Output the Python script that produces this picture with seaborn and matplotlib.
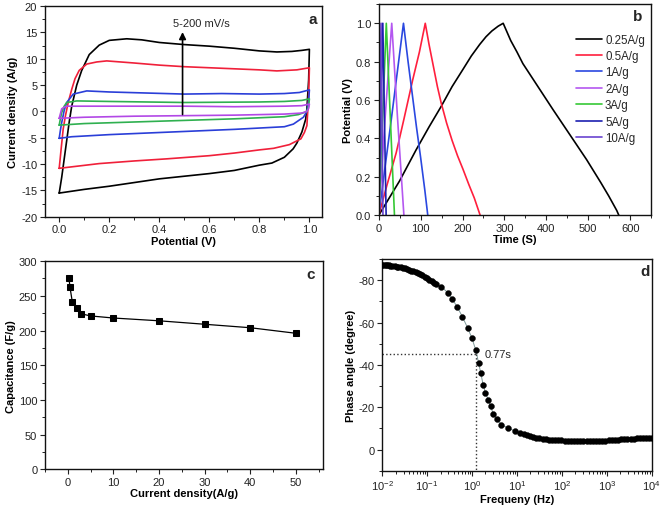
import numpy as np
import pandas as pd
import matplotlib
matplotlib.use('Agg')
import matplotlib.pyplot as plt
from matplotlib.ticker import MultipleLocator
import seaborn as sns

# ---- panel a: CV loops (potential V, current density A/g)
cv_x_black = [0.0, 0.01, 0.02, 0.03, 0.04, 0.05, 0.07, 0.09, 0.12, 0.16, 0.2, 0.27, 0.33, 0.4, 0.5, 0.6, 0.7, 0.8, 0.87, 0.93, 0.97, 1.0,
              0.997, 0.99, 0.985, 0.97, 0.95, 0.935, 0.9, 0.85, 0.8, 0.7, 0.6, 0.5, 0.4, 0.3, 0.2, 0.1, 0.0]
cv_y_black = [-15.5, -12.5, -9.0, -5.5, -2.0, 1.0, 5.0, 7.8, 10.8, 12.6, 13.5, 13.8, 13.6, 13.1, 12.7, 12.4, 12.0, 11.5, 11.3, 11.4, 11.6, 11.8,
              6.0, 0.5, -1.5, -3.9, -6.0, -7.1, -8.7, -9.8, -10.2, -11.2, -11.8, -12.3, -12.8, -13.5, -14.2, -14.8, -15.5]
cv_x_red = [0.0, 0.008, 0.016, 0.025, 0.036, 0.05, 0.063, 0.08, 0.11, 0.15, 0.19, 0.3, 0.4, 0.5, 0.6, 0.7, 0.8, 0.87, 0.95, 1.0,
            0.997, 0.99, 0.98, 0.966, 0.92, 0.857, 0.8, 0.7, 0.6, 0.43, 0.3, 0.16, 0.0]
cv_y_red = [-10.8, -7.0, -3.3, -0.8, 1.7, 4.2, 6.2, 7.8, 9.0, 9.4, 9.6, 9.2, 8.8, 8.5, 8.3, 8.1, 7.9, 7.7, 7.9, 8.3,
            3.0, -2.7, -4.0, -5.2, -6.3, -7.0, -7.3, -7.9, -8.4, -9.0, -9.4, -9.9, -10.8]
cv_x_blue = [0.0, 0.005, 0.01, 0.02, 0.03, 0.056, 0.11, 0.2, 0.35, 0.5, 0.65, 0.8, 0.9, 0.96, 1.0,
             0.997, 0.99, 0.976, 0.936, 0.9, 0.7, 0.6, 0.4, 0.2, 0.05, 0.0]
cv_y_blue = [-5.1, -3.5, -2.1, 0.2, 1.7, 3.3, 3.9, 3.7, 3.5, 3.3, 3.4, 3.3, 3.4, 3.6, 4.1,
             2.0, 0.0, -1.1, -2.4, -2.9, -3.4, -3.6, -4.0, -4.4, -4.8, -5.1]
cv_x_green = [0.0, 0.005, 0.01, 0.02, 0.03, 0.07, 0.2, 0.5, 0.8, 0.9, 0.97, 1.0,
              0.997, 0.99, 0.956, 0.9, 0.7, 0.5, 0.3, 0.1, 0.0]
cv_y_green = [-2.6, -1.3, -0.2, 1.0, 1.7, 2.0, 1.9, 1.7, 1.8, 1.9, 2.1, 2.4,
              1.0, 0.0, -0.6, -1.0, -1.4, -1.7, -2.0, -2.3, -2.6]
cv_x_violet = [0.0, 0.005, 0.01, 0.02, 0.03, 0.1, 0.3, 0.5, 0.7, 0.9, 0.97, 1.0,
               0.997, 0.99, 0.97, 0.9, 0.7, 0.5, 0.3, 0.1, 0.0]
cv_y_violet = [-1.3, -0.4, 0.5, 0.8, 1.0, 1.0, 1.0, 1.0, 0.9, 1.0, 1.1, 1.4,
               0.6, 0.0, -0.3, -0.5, -0.7, -0.8, -0.9, -1.1, -1.3]

# ---- panel b: GCD curves (time s, potential V)
gcd_labels = ['0.25A/g', '0.5A/g', '1A/g', '2A/g', '3A/g', '5A/g', '10A/g']
gcd_t_025 = [0, 25, 49.5, 89, 120, 149, 175, 201, 221, 241, 256, 270, 285, 297,
             305, 315, 330, 344, 362, 380, 398, 416, 436, 456, 476, 496, 513, 530, 549, 568, 573]
gcd_v_025 = [0.0, 0.09, 0.178, 0.34, 0.46, 0.567, 0.67, 0.76, 0.83, 0.89, 0.93, 0.96, 0.985, 1.0,
             0.96, 0.91, 0.85, 0.79, 0.73, 0.67, 0.61, 0.55, 0.485, 0.42, 0.355, 0.29, 0.23, 0.17, 0.1, 0.025, 0.0]
gcd_t_05 = [0, 20, 41.6, 60, 81, 97, 111, 120, 130, 140, 149, 162, 175, 188, 201, 215, 228, 242]
gcd_v_05 = [0.0, 0.16, 0.325, 0.5, 0.705, 0.85, 1.0, 0.89, 0.78, 0.67, 0.585, 0.48, 0.39, 0.31, 0.24, 0.16, 0.09, 0.0]
gcd_t_1 = [0, 30, 59, 70, 80, 90, 100, 110, 117]
gcd_v_1 = [0.0, 0.5, 1.0, 0.8, 0.63, 0.46, 0.3, 0.13, 0.0]
gcd_t_2 = [0, 15, 31, 45, 60]
gcd_v_2 = [0.0, 0.5, 1.0, 0.5, 0.0]
gcd_t_3 = [0, 18, 37.5]
gcd_v_3 = [0.0, 1.0, 0.0]
gcd_t_5 = [0, 9.7, 17.6]
gcd_v_5 = [0.0, 1.0, 0.0]
gcd_t_10 = [0, 5.5, 10]
gcd_v_10 = [0.0, 1.0, 0.0]

# ---- panel c: rate capability
current_density = [0.25, 0.5, 1, 2, 3, 5, 10, 20, 30, 40, 50]
capacitance = [276, 262, 241, 232, 224, 221, 218, 214, 209, 204, 196]

# ---- panel d: Bode phase
freq = [0.010, 0.011, 0.012, 0.013, 0.014, 0.015, 0.017, 0.019, 0.021, 0.023, 0.026, 0.029, 0.032, 0.036,
        0.040, 0.045, 0.050, 0.056, 0.063, 0.071, 0.079, 0.089, 0.100, 0.112, 0.126, 0.141, 0.158,
        0.209, 0.295, 0.368, 0.476, 0.615, 0.796, 0.993, 1.22, 1.40, 1.57, 1.77, 2.00, 2.30, 2.59, 2.96,
        3.52, 4.47, 6.40, 9.02, 11.6,
        14.1, 16.6, 19.5, 22.9, 26.9, 31.6, 37.2, 43.7, 51.3, 60.3, 70.8, 83.2, 97.7, 115, 135, 158, 186,
        219, 257, 302, 355, 417, 490, 575, 676, 794, 933, 1096, 1288, 1514, 1778, 2089, 2455, 2884, 3388,
        3981, 4677, 5495, 6457, 7586, 8913, 10000]
phase = [-87.4, -87.3, -87.2, -87.1, -87.0, -86.9, -86.8, -86.6, -86.5, -86.3, -86.1, -85.8, -85.6, -85.3,
         -85.0, -84.6, -84.2, -83.8, -83.3, -82.8, -82.3, -81.7, -81.0, -80.3, -79.6, -78.8, -78.0,
         -76.9, -74.0, -71.0, -67.2, -62.7, -57.6, -52.8, -46.9, -41.1, -36.2, -30.7, -26.8, -23.6, -20.5, -17.0,
         -14.6, -11.8, -10.2, -8.8, -7.9,
         -7.4, -7.0, -6.5, -6.1, -5.7, -5.3, -5.0, -4.8, -4.6, -4.5, -4.4, -4.3, -4.3, -4.2, -4.2, -4.2, -4.2,
         -4.2, -4.2, -4.2, -4.2, -4.2, -4.2, -4.2, -4.2, -4.2, -4.2, -4.3, -4.3, -4.4, -4.6, -4.8, -5.0, -5.1, -5.2,
         -5.2, -5.3, -5.3, -5.3, -5.3, -5.3, -5.3]

sns.set_style("ticks")
plt.rcParams['font.family'] = ['Liberation Sans', 'DejaVu Sans']
plt.rcParams['axes.unicode_minus'] = False
plt.rcParams['font.size'] = 8
plt.rcParams['xtick.labelsize'] = 8
plt.rcParams['ytick.labelsize'] = 8
plt.rcParams['xtick.color'] = '#222222'
plt.rcParams['ytick.color'] = '#222222'
plt.rcParams['axes.edgecolor'] = '#111111'
plt.rcParams['axes.linewidth'] = 1.0

fig = plt.figure(figsize=(6.61, 5.10), dpi=100)
ax_a = fig.add_axes([0.068, 0.573, 0.419, 0.413])
ax_b = fig.add_axes([0.573, 0.576, 0.412, 0.414])
ax_c = fig.add_axes([0.068, 0.078, 0.421, 0.408])
ax_d = fig.add_axes([0.578, 0.075, 0.408, 0.415])

lab = dict(fontsize=8, fontweight='bold', color='black')
letter = dict(fontsize=11, fontweight='bold', ha='center', va='center')


def style(ax):
    for s in ax.spines.values():
        s.set_visible(True)
        s.set_color('#111111')
    ax.tick_params(which='major', direction='out', length=3.5, width=0.8, pad=2)
    ax.tick_params(which='minor', direction='out', length=2, width=0.7)


# a
cv = [(cv_x_black, cv_y_black, 'black'), (cv_x_red, cv_y_red, '#f0203a'),
      (cv_x_blue, cv_y_blue, '#2a3ed8'), (cv_x_green, cv_y_green, '#2fb050'),
      (cv_x_violet, cv_y_violet, '#b248e6')]
for xs, ys, c in cv:
    sns.lineplot(x=xs, y=ys, sort=False, estimator=None, color=c, linewidth=1.2, ax=ax_a)
ax_a.set_xlim(-0.057, 1.05)
ax_a.set_ylim(-20, 20)
ax_a.xaxis.set_major_locator(MultipleLocator(0.2))
ax_a.xaxis.set_minor_locator(MultipleLocator(0.1))
ax_a.yaxis.set_major_locator(MultipleLocator(5))
ax_a.yaxis.set_minor_locator(MultipleLocator(2.5))
ax_a.set_xlabel('Potential (V)', labelpad=1, **lab)
ax_a.set_ylabel('Current density (A/g)', labelpad=2, **lab)
ax_a.annotate('', xy=(0.493, 15.6), xytext=(0.493, -1.1),
              arrowprops=dict(arrowstyle='-|>', lw=1.2, color='black', mutation_scale=10))
ax_a.text(0.455, 16.8, '5-200 mV/s', fontsize=8, ha='left', va='center')
ax_a.text(0.966, 0.941, 'a', transform=ax_a.transAxes, **letter)
style(ax_a)

# b
gcd = [(gcd_t_025, gcd_v_025, 'black'), (gcd_t_05, gcd_v_05, '#ff1f3d'),
       (gcd_t_1, gcd_v_1, '#2a48e0'), (gcd_t_2, gcd_v_2, '#b457f0'),
       (gcd_t_3, gcd_v_3, '#36c836'), (gcd_t_5, gcd_v_5, '#1c20b0'),
       (gcd_t_10, gcd_v_10, '#6a44d0')]
for (ts, vs, c), name in zip(gcd, gcd_labels):
    sns.lineplot(x=ts, y=vs, sort=False, estimator=None, color=c, linewidth=1.2, label=name, ax=ax_b)
ax_b.set_xlim(0, 650)
ax_b.set_ylim(0, 1.1)
ax_b.xaxis.set_major_locator(MultipleLocator(100))
ax_b.xaxis.set_minor_locator(MultipleLocator(50))
ax_b.yaxis.set_major_locator(MultipleLocator(0.2))
ax_b.yaxis.set_minor_locator(MultipleLocator(0.1))
ax_b.yaxis.set_major_formatter(matplotlib.ticker.FormatStrFormatter('%.1f'))
ax_b.set_xlabel('Time (S)', labelpad=1, **lab)
ax_b.set_ylabel('Potential (V)', labelpad=2, **lab)
ax_b.legend(loc='upper left', bbox_to_anchor=(0.725, 0.86), frameon=False, fontsize=8.3,
            borderaxespad=0, borderpad=0, handlelength=2.2, handletextpad=0.3, labelspacing=0.38)
ax_b.text(0.949, 0.943, 'b', transform=ax_b.transAxes, **letter)
style(ax_b)

# c
sns.lineplot(x=current_density, y=capacitance, color='black', linewidth=0.9, marker='s',
             markersize=4.5, markeredgecolor='black', ax=ax_c)
ax_c.set_xlim(-5, 56)
ax_c.set_ylim(0, 300)
ax_c.xaxis.set_major_locator(MultipleLocator(10))
ax_c.xaxis.set_minor_locator(MultipleLocator(5))
ax_c.yaxis.set_major_locator(MultipleLocator(50))
ax_c.yaxis.set_minor_locator(MultipleLocator(25))
ax_c.set_xlabel('Current density(A/g)', labelpad=1, **lab)
ax_c.set_ylabel('Capacitance (F/g)', labelpad=2, **lab)
ax_c.text(0.955, 0.938, 'c', transform=ax_c.transAxes, **letter)
style(ax_c)

# d
bode = pd.DataFrame({'f': freq, 'phase': phase})
ax_d.set_xscale('log')
sns.lineplot(data=bode, x='f', y='phase', color='#7f9a9a', linewidth=0.7, ax=ax_d)
sns.scatterplot(data=bode, x='f', y='phase', color='black', s=18, edgecolor='black', linewidth=0.3, ax=ax_d, zorder=3)
ax_d.set_xlim(1e-2, 1e4)
ax_d.set_ylim(10, -90)
ax_d.yaxis.set_major_locator(MultipleLocator(20))
ax_d.yaxis.set_minor_locator(MultipleLocator(10))
ax_d.plot([1e-2, 1.2], [-45, -45], linestyle=':', color='#333333', linewidth=1.0)
ax_d.plot([1.2, 1.2], [-45, 10], linestyle=':', color='#333333', linewidth=1.0)
ax_d.text(1.9, -45, '0.77s', fontsize=8, ha='left', va='center')
ax_d.set_xlabel('Frequeny (Hz)', labelpad=1, **lab)
ax_d.set_ylabel('Phase angle (degree)', labelpad=2, **lab)
ax_d.text(0.974, 0.943, 'd', transform=ax_d.transAxes, **letter)
style(ax_d)

fig.savefig('out.png', dpi=100)
